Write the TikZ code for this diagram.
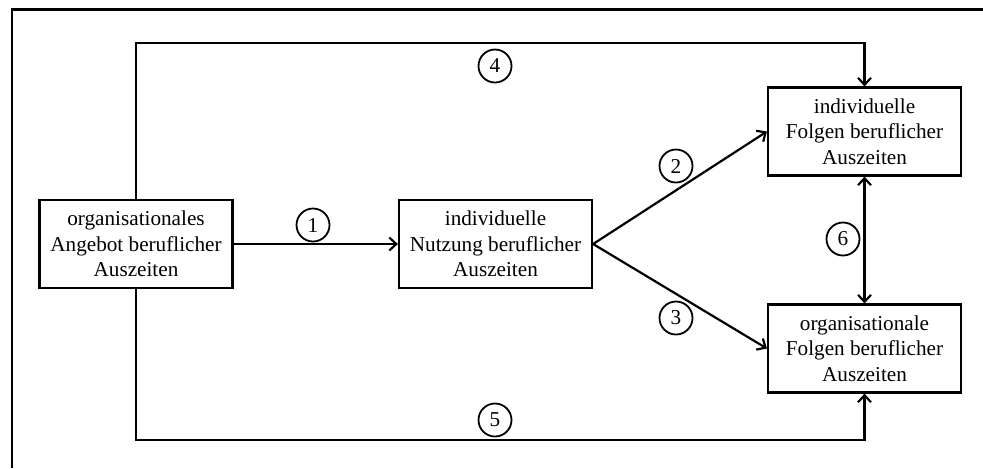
\documentclass[tikz,border=0pt]{standalone}
\usepackage{fontspec}
\setmainfont{Liberation Serif}
\usetikzlibrary{arrows.meta,positioning}

\begin{document}
\begin{tikzpicture}[
    x=0.5pt, y=-0.5pt,
    >={Straight Barb[length=3.5pt,width=6.5pt]},
    line width=1.1pt,
    font=\fontsize{10.6}{12.8}\selectfont,
    block/.style={
		rectangle,
		draw=black,
		text centered,
		align=center,
		inner sep=0pt,
		minimum width=96.5pt,
		minimum height=44pt,
		fill=white
	},
	nummer/.style={
		circle,
		draw=black,
		line width=0.9pt,
		inner sep=0pt,
		minimum size=16.5pt,
		fill=white
	}
  ]
  \useasboundingbox (0,0) rectangle (983,468);
  % frame
  \draw (12,468) -- (12,9.5) -- (983,9.5);

  % We start by placing the blocks
  \node [block] (angebot) at (136,244) {organisationales\\Angebot beruflicher\\Auszeiten};
  \node [block] (nutzung) at (495.5,244) {individuelle\\Nutzung beruflicher\\Auszeiten};
  \node [block] (indfolgen) at (864.5,131.5) {individuelle\\Folgen beruflicher\\Auszeiten};
  \node [block] (orgfolgen) at (864.5,348.5) {organisationale\\Folgen beruflicher\\Auszeiten};

  \coordinate (oben) at (495,43);
  \coordinate (unten) at (495,440);

  \draw [->] (angebot) -- (nutzung);
  \draw [->] (nutzung.east) -- (indfolgen.west);
  \draw [->] (nutzung.east) -- (orgfolgen.west);
  \draw [<->] (indfolgen) -- (orgfolgen);
  \draw [->] (angebot.north) -- (angebot.north |- oben) -| (indfolgen.north);
  \draw [->] (angebot.south) -- (angebot.south |- unten) -| (orgfolgen.south);

  % numbers
  \node [nummer] (n1) at (313,225) {1};
  \node [nummer] (n2) at (676,166) {2};
  \node [nummer] (n3) at (676,318) {3};
  \node [nummer] (n4) at (495,66) {4};
  \node [nummer] (n5) at (495,420) {5};
  \node [nummer] (n6) at (843,239) {6};

\end{tikzpicture}
\end{document}
